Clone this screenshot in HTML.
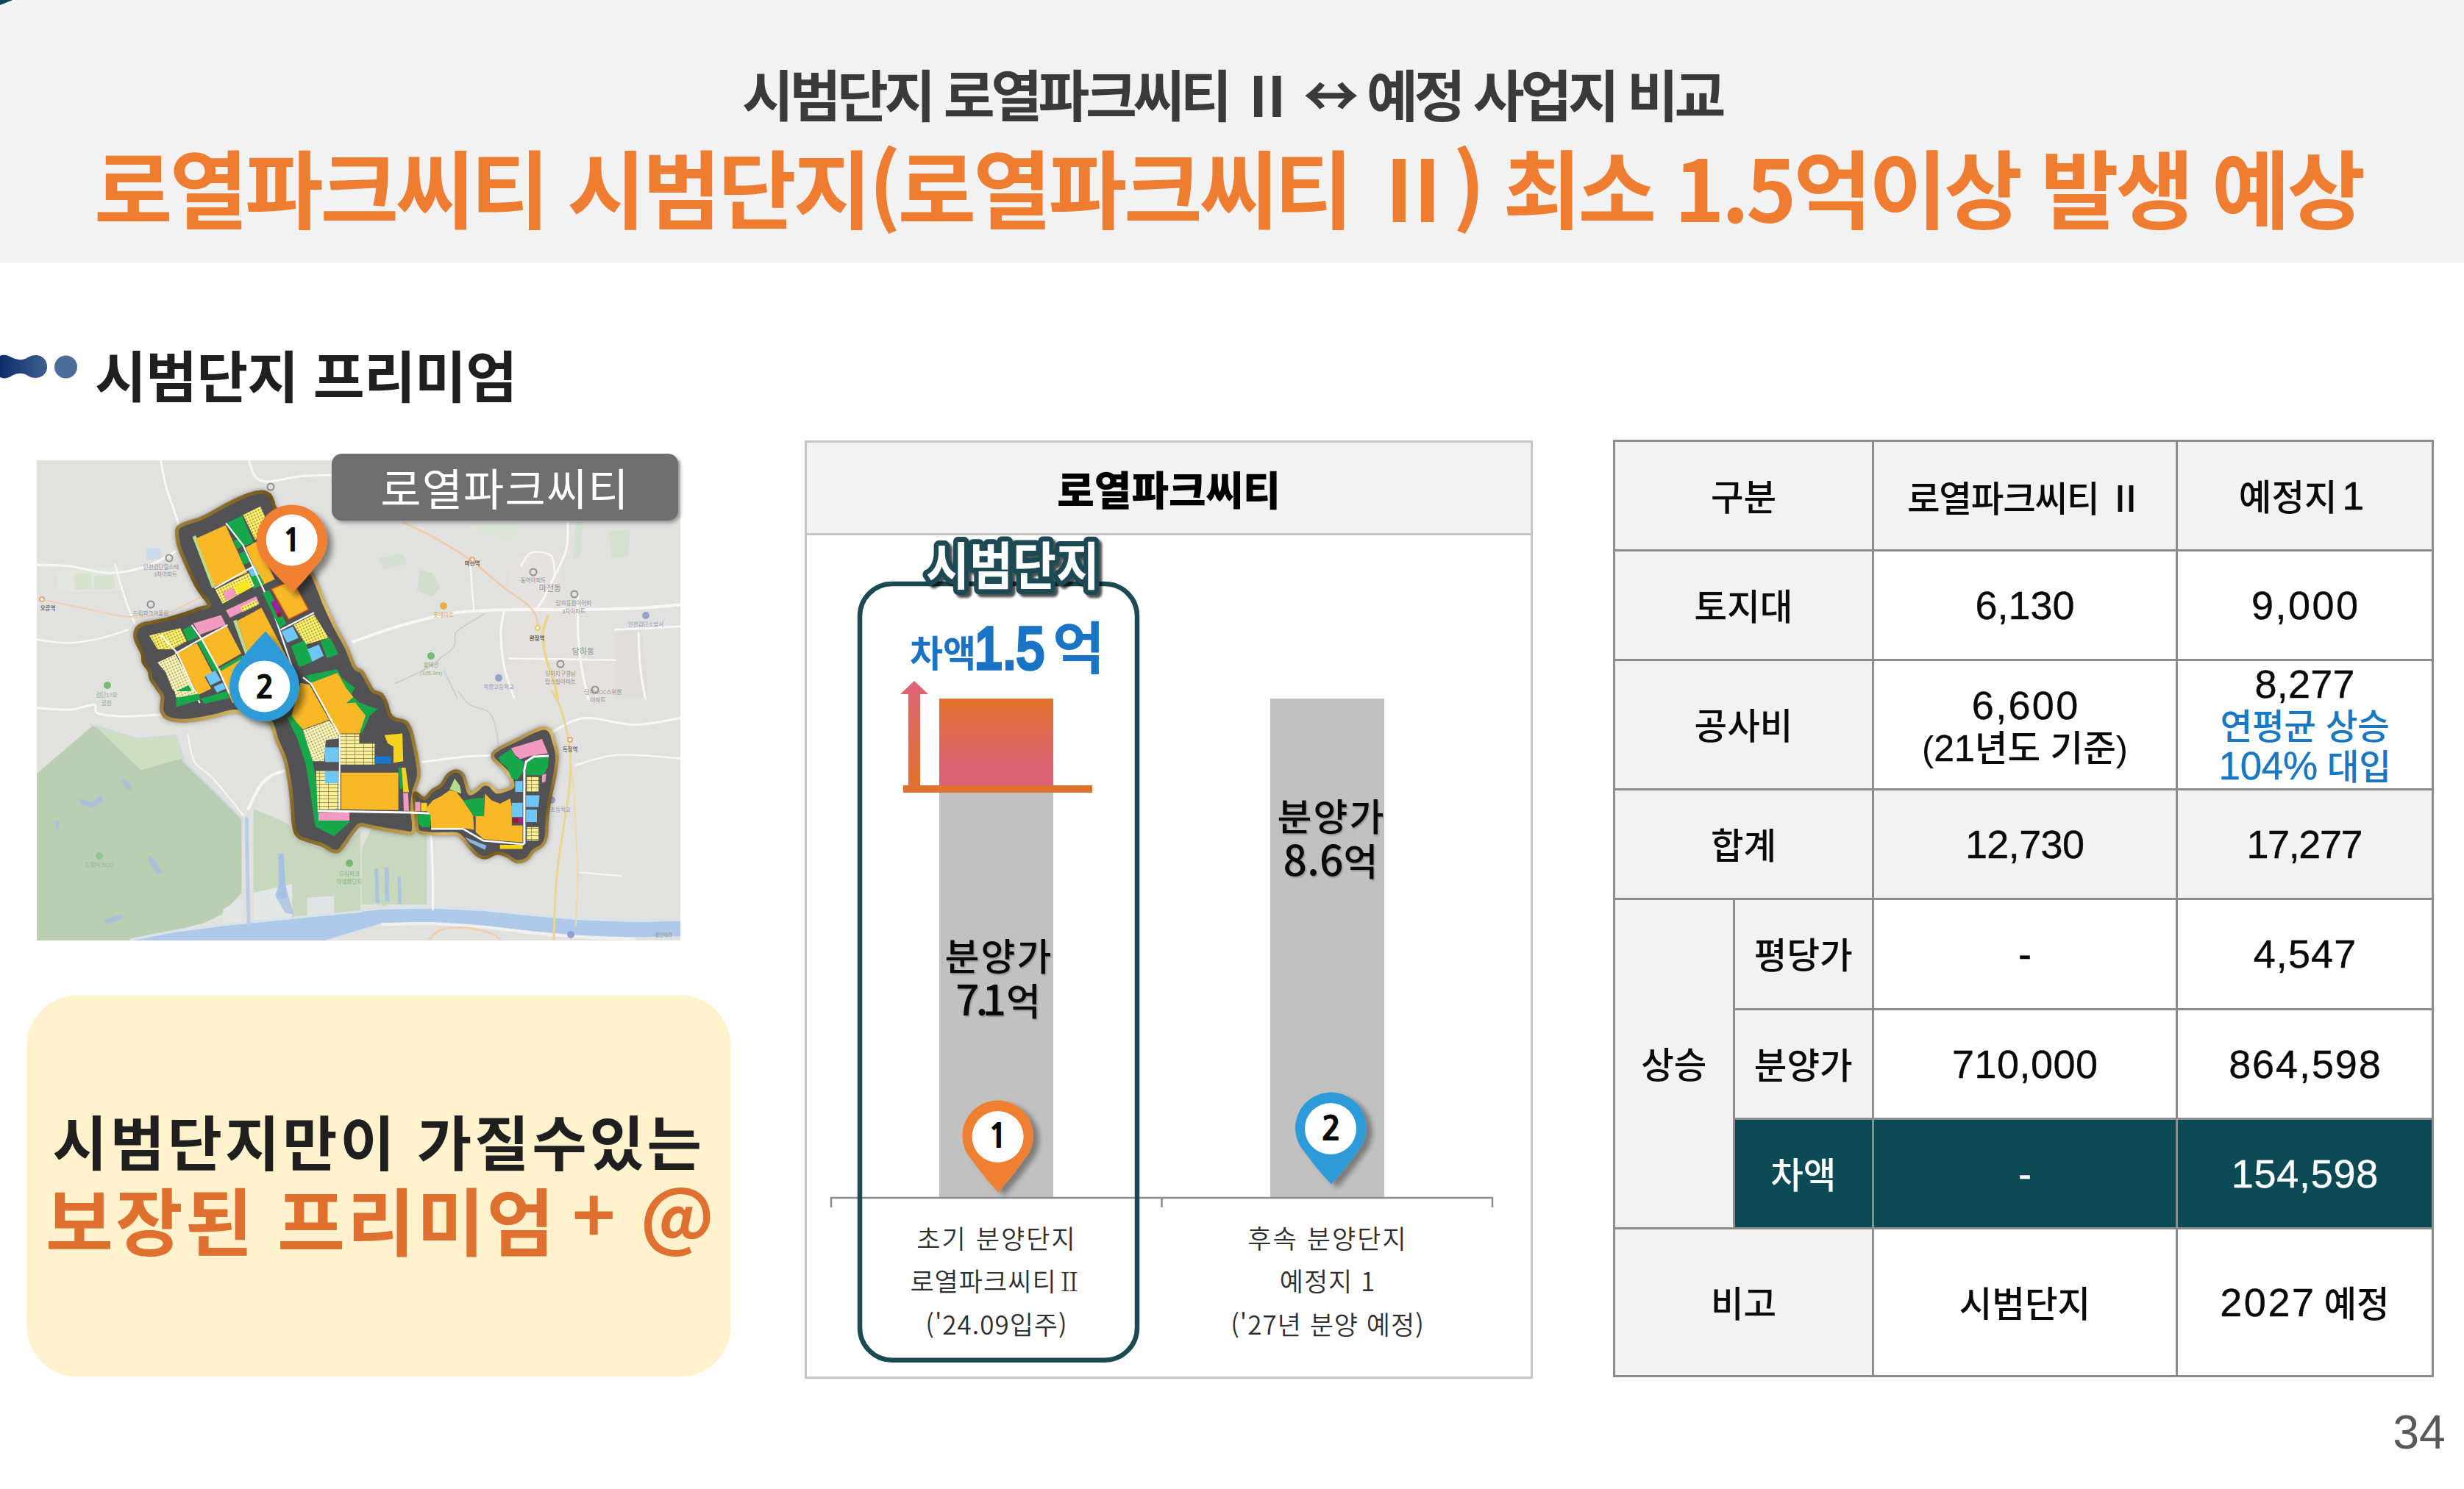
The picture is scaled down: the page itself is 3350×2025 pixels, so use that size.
<!DOCTYPE html>
<html lang="ko">
<head>
<meta charset="utf-8">
<title>시범단지 프리미엄</title>
<style>
*{margin:0;padding:0;box-sizing:border-box}
html,body{width:3350px;height:2025px;overflow:hidden;background:#fff}
body{position:relative;font-family:"Liberation Sans","Noto Sans CJK KR","NanumGothic",sans-serif;color:#111}
.abs{position:absolute;white-space:nowrap}
.k{font-family:"Noto Sans CJK KR","NanumGothic",sans-serif}
/* header */
#hdr{left:0;top:0;width:3350px;height:357px;background:#f2f2f2}
#t1{left:0;width:3350px;top:68px;text-align:center;font-size:76px;line-height:116px;font-weight:700;color:#3a3a3a;letter-spacing:-5.450px}
#t2{left:-5px;width:3350px;top:165.500px;text-align:center;font-size:116px;line-height:170px;font-weight:700;color:#ee7d31;letter-spacing:-4.250px}
/* section heading */
#h2{left:129px;top:459px;font-size:76px;line-height:112px;font-weight:700;color:#1f1f1f;letter-spacing:-0.800px}
#mlabel{left:451px;top:617px;width:471px;height:91px;border-radius:14px;background:#6f6f6f;color:#fff;font-size:60px;line-height:91px;text-align:center;font-weight:400;letter-spacing:1.200px;box-shadow:3px 3px 5px rgba(0,0,0,.35);padding-top:4.500px}
/* yellow box */
#ybox{left:37px;top:1353.500px;width:956px;height:518px;border-radius:68px;background:#fff2cd;box-shadow:0 0 3px #fff2cd}
#y1{left:37px;width:955px;top:1497px;text-align:center;font-size:81px;line-height:120px;font-weight:700;color:#1f1f1f;letter-spacing:3.700px}
#y2{left:45px;width:955px;top:1584px;text-align:center;font-size:100px;line-height:146px;font-weight:700;color:#e07030;letter-spacing:2.800px}
/* chart */
#chart{left:1094px;top:599px;width:990px;height:1276px;border:3px solid #c6c6c6;background:#fff}
#chead{left:1094px;top:599px;width:990px;height:129px;border:3px solid #c6c6c6;background:#f2f2f2}
#ctitle{left:1094px;width:990px;top:627px;text-align:center;font-size:55px;line-height:82px;font-weight:900;color:#000;letter-spacing:0}

#sbdj{left:1180px;width:400px;top:722px;text-align:center;font-size:68px;line-height:98px;font-weight:700;color:#fff;letter-spacing:-6px;-webkit-text-stroke:9px #1b4a52;paint-order:stroke fill;text-shadow:4px 4px 4px rgba(0,0,0,.45)}
#diff{left:1236px;top:822px;color:#1a73c4;font-weight:700;line-height:120px;letter-spacing:-4px}
#diff .a{font-size:50px}
#diff .b{font-size:84px;letter-spacing:-6px}
#diff .c{font-size:78px}
.bl{font-family:"Noto Sans CJK KR","NanumGothic",sans-serif;text-align:center;font-size:51px;line-height:61px;font-weight:500;color:#0a0a0a;width:240px;text-shadow:1.500px 1.500px 2px rgba(0,0,0,.22);letter-spacing:2px}
.bl .dg{font-size:57px;line-height:40px;letter-spacing:0;font-variant-numeric:proportional-nums}
#bl1{left:1238px;top:1268px}
#bl2{left:1690px;top:1078px}
.xl{font-family:"Noto Sans CJK KR","NanumGothic",sans-serif;text-align:center;font-size:35px;line-height:58.500px;font-weight:350;color:#2e2e2e;width:450px;letter-spacing:1px}
.xl .w{letter-spacing:2.100px}
#xl1{left:1130px;top:1653.500px}
#xl2{left:1580px;top:1653.500px}
/* table */
#tbl{left:2193px;top:598px;border-collapse:collapse;table-layout:fixed}
#tbl td{border:3px solid #8c8c8c;text-align:center;vertical-align:middle;font-size:48.500px;line-height:56px;color:#0a0a0a;background:#fff;font-weight:500;padding:5.500px 0 0 0}
#tbl td.g{background:#f2f2f2}
#tbl td.d{background:#0c4a56;color:#fff}
#tbl .n{font-size:54px;line-height:1px;position:relative;top:-1px;-webkit-text-stroke:0.400px currentColor}
#tbl td.m3{font-size:47.500px;line-height:55px;letter-spacing:-0.300px}
#tbl td.m2{padding-top:9px}
#tbl td.m3 .n{font-size:54px}
.blue{color:#1a78c2}
#pg{left:3205px;width:120px;top:1908px;text-align:right;font-size:64.500px;line-height:80px;color:#595959}
</style>
</head>
<body>
<div id="hdr" class="abs"></div>
<svg class="abs" style="left:0;top:0" width="30" height="12" viewBox="0 0 30 12"><path d="M0 0H18L0 7Z" fill="#0f4854"/><path d="M19.500 0L0 8" stroke="#f6ffff" stroke-width="1.500" fill="none"/></svg>
<div id="t1" class="abs k">시범단지 로열파크씨티 Ⅱ ↔ 예정 사업지 비교</div>
<div id="t2" class="abs k">로열파크씨티 시범단지(로열파크씨티 Ⅱ) 최소 1.5억이상 발생 예상</div>

<svg class="abs" style="left:0;top:478px" width="112" height="42" viewBox="0 0 112 42">
<defs><linearGradient id="bg1" x1="0" x2="1" y1="0" y2="0"><stop offset="0" stop-color="#0c2d69"/><stop offset="1" stop-color="#3d608f"/></linearGradient></defs>
<path d="M0 6C6 3 12 6 18 9C25 12 32 12 38 8C46 3 56 4 61 11C66 18 65 28 58 33C52 37 44 37 38 33C32 29 25 29 18 32C12 36 6 38 0 35Z" fill="url(#bg1)"/>
<circle cx="89.5" cy="21" r="15.5" fill="#4a6e99"/>
</svg>
<div id="h2" class="abs">시범단지 프리미엄</div>

<!-- MAP -->
<svg class="abs" id="map" style="left:50px;top:626px" width="875" height="653" viewBox="0 0 875 653">
<defs>
<linearGradient id="gold" x1="0" y1="0" x2="1" y2="1"><stop offset="0" stop-color="#c9a650"/><stop offset="0.25" stop-color="#6e531b"/><stop offset="0.5" stop-color="#dcbb66"/><stop offset="0.75" stop-color="#7a5d1f"/><stop offset="1" stop-color="#d2b05a"/></linearGradient>
<filter id="msh" x="-10%" y="-10%" width="120%" height="120%"><feGaussianBlur stdDeviation="4"/></filter>
<filter id="mpin" x="-50%" y="-50%" width="200%" height="200%"><feGaussianBlur in="SourceAlpha" stdDeviation="4"/><feOffset dx="7" dy="7"/><feComponentTransfer><feFuncA type="linear" slope="0.45"/></feComponentTransfer><feMerge><feMergeNode/><feMergeNode in="SourceGraphic"/></feMerge></filter>
<pattern id="pdot" width="4" height="4" patternUnits="userSpaceOnUse" patternTransform="rotate(-25)"><rect width="4" height="4" fill="#f6e84e"/><rect x="0" y="0" width="1.300" height="1.300" fill="#5a5a2a"/><rect x="2" y="2" width="1.600" height="1.600" fill="#fffbe0"/></pattern>
<pattern id="pdot2" width="4" height="4" patternUnits="userSpaceOnUse" patternTransform="rotate(-25)"><rect width="4" height="4" fill="#f3eda6"/><rect x="0" y="0" width="1.300" height="1.300" fill="#6a6a3a"/><rect x="2" y="2" width="1.500" height="1.500" fill="#fff"/></pattern>
<pattern id="pgrid" width="12" height="5" patternUnits="userSpaceOnUse"><rect width="12" height="5" fill="#f6ef9e"/><rect x="0" y="0" width="12" height="0.800" fill="#8a7a30"/><rect x="0" y="0" width="0.700" height="5" fill="#8a7a30"/></pattern>
</defs>
<rect x="0" y="0" width="875" height="653" fill="#e0e1df"/>
<path d="M635.5 212.3L738.2 210.0L740.5 269.4L786.2 271.7L786.2 324.0L642.3 324.0Z" fill="#e3dfdb" />
<path d="M786.2 230.6L822.7 230.6L831.8 324.0L786.2 324.0Z" fill="#dedcda" />
<path d="M649.2 130.1L713.1 125.6L717.7 203.2L635.5 207.7Z" fill="#e4e1df" />
<path d="M26.6 150.7L110.8 144.1L115.3 177.3L28.8 179.6Z" fill="#e2e6df" />
<path d="M51.0 155.2L73.2 153.0L75.4 175.1L52.1 176.2Z" fill="#d3e2cc" />
<path d="M77.6 157.4L104.2 155.2L106.4 175.1L78.7 176.2Z" fill="#d3e2cc" />
<path d="M148.5 119.7L168.5 119.7L168.5 135.2L148.5 135.2Z" fill="#c9d9ea" />
<path d="M521.3 148.4L537.3 152.9L548.7 173.5L537.3 184.9L516.8 178.1Z" fill="#cfdcc8" />
<path d="M464.2 132.4L498.5 127.8L503.1 141.5L471.1 148.4Z" fill="#d2dfcc" />
<path d="M589.8 84.5L658.3 86.7L646.9 107.3L603.5 102.7Z" fill="#d9e3d3" />
<path d="M777.0 98.2L806.7 93.6L804.4 130.1L781.6 132.4Z" fill="#d3e0cd" />
<path d="M733.7 84.5L742.8 84.5L738.2 130.1L729.1 134.7Z" fill="#cfe0d0" />
<path d="M0.0 425.9L77.6 359.7L137.0 377.9L189.5 373.4L198.6 409.9L278.5 487.5L278.5 588.0L251.1 617.7L228.3 629.1L127.9 654.0L0.0 654.0Z" fill="#b6ccae" />
<path d="M77.6 359.7L137.0 377.9L189.5 373.4L198.6 405.3L141.6 421.3Z" fill="#cbdcbd" />
<path d="M294.5 473.8L342.5 494.4L351.6 514.9L388.1 528.6L411.0 530.9L440.0 503.5L440.0 617.7L294.5 629.1Z" fill="#c4d6bb" />
<path d="M294.5 588.0L347.0 576.6L347.0 626.8L294.5 629.1Z" fill="#e4e6e6" />
<path d="M367.6 594.8L404.1 592.5L404.1 619.9L367.6 622.2Z" fill="#e0e3e3" />
<path d="M253.4 610.8L278.5 594.8L278.5 629.1L253.4 633.6Z" fill="#e4e6e6" />
<path d="M455.0 500.1L530.4 509.0L530.4 604.1L441.7 604.1L441.7 528.9Z" fill="#c4d6bb" />
<path d="M470.0 501.2L515.7 510.3L529.4 533.2L527.1 588.0L470.0 606.2Z" fill="#c4d6bb" />
<path d="M57.1 460.1L75.3 464.7L86.8 455.6L91.3 462.4L75.3 473.8L59.4 467.0Z" fill="#9dbbe4" opacity="0.75"/>
<path d="M114.2 432.7L123.3 435.0L130.1 448.7L121.0 446.4Z" fill="#9dbbe4" opacity="0.75"/>
<path d="M150.7 537.7L159.8 542.3L171.2 560.6L164.4 562.9L153.0 546.9Z" fill="#9dbbe4" opacity="0.75"/>
<path d="M91.3 624.5L114.2 617.7L118.7 622.2L95.9 631.4Z" fill="#9dbbe4" opacity="0.75"/>
<path d="M328.8 535.5L335.6 534.3L337.9 576.6L349.3 617.7L337.9 615.4L324.2 592.5L328.8 576.6Z" fill="#9dbbe4" opacity="0.75"/>
<path d="M25.1 492.1L29.7 489.8L30.8 501.2L26.3 503.5Z" fill="#9dbbe4" opacity="0.75"/>
<path d="M328.6 535.6L335.3 535.6L337.5 568.8L339.7 595.4L326.4 595.4L330.8 568.8Z" fill="#9dbbe4" opacity="0.75"/>
<path d="M459.4 555.5L463.8 555.5L466.1 602.1L460.5 602.1Z" fill="#9dbbe4" opacity="0.75"/>
<path d="M472.7 553.3L478.3 553.3L479.4 599.9L473.8 599.9Z" fill="#9dbbe4" opacity="0.75"/>
<path d="M490.5 566.6L494.9 566.6L496.0 604.1L491.6 604.1Z" fill="#9dbbe4" opacity="0.75"/>
<path d="M127.9 654.0L182.6 642.8L251.1 633.6L342.5 624.5L470.0 610.8L538.5 609.7L607.0 613.1L675.5 619.9L744.0 625.6L812.5 627.9L875.3 626.8L875.3 647.3L812.5 648.5L744.0 646.2L675.5 640.5L607.0 632.5L538.5 627.9L470.0 629.1L388.1 654.0L342.5 656.5Z" fill="#a9c6e8"/>
<path d="M127.9 651.9C137.0 650.1 162.1 644.2 182.6 640.9C203.1 637.5 224.4 634.8 251.1 631.8C277.8 628.8 311.0 625.8 342.5 622.7C374.0 619.7 423.8 615.0 440.0 613.5" fill="none" stroke="#d5e2ea" stroke-width="3" stroke-linecap="round" />
<path d="M470.0 609.0C481.4 608.8 515.7 607.4 538.5 607.8C561.3 608.2 584.2 609.6 607.0 611.3C629.8 613.0 652.7 616.0 675.5 618.1C698.3 620.2 721.2 622.5 744.0 623.8C766.8 625.1 790.6 625.9 812.5 626.1C834.4 626.3 864.8 625.2 875.3 625.0" fill="none" stroke="#d5e2ea" stroke-width="3" stroke-linecap="round" />
<path d="M470.0 631.4C481.4 631.2 515.7 629.6 538.5 630.2C561.3 630.8 584.2 632.7 607.0 634.8C629.8 636.9 652.7 640.5 675.5 642.8C698.3 645.1 721.2 647.2 744.0 648.5C766.8 649.8 801.1 650.4 812.5 650.8" fill="none" stroke="#f0f0ee" stroke-width="4" stroke-linecap="round" />
<path d="M285.4 487.5L286.5 565.1L288.1 631.4" fill="none" stroke="#b4cbe4" stroke-width="5" stroke-linecap="round" />
<path d="M73.1 359.7L137.0 379.1L189.5 374.5L200.9 409.9L279.7 488.7" fill="none" stroke="#c9d8dc" stroke-width="2.5" stroke-linecap="round" />
<path d="M0.0 141.9C7.4 142.3 28.8 142.2 44.3 144.1C59.8 145.9 79.8 151.9 93.1 153.0C106.4 154.1 113.8 152.5 124.1 150.7C134.4 148.8 144.5 146.3 155.2 141.9C165.9 137.5 182.9 127.1 188.4 124.1" fill="none" stroke="#f7f7f6" stroke-width="3" stroke-linecap="round" />
<path d="M168.5 0.0C169.6 5.5 171.8 21.1 175.1 33.3C178.4 45.5 185.1 63.2 188.4 73.2C191.7 83.2 194.0 89.8 195.1 93.1" fill="none" stroke="#f7f7f6" stroke-width="3" stroke-linecap="round" />
<path d="M0.0 243.8C7.4 244.6 29.5 248.7 44.3 248.3C59.1 247.9 75.4 244.6 88.7 241.6C102.0 238.6 118.2 232.3 124.1 230.5" fill="none" stroke="#f7f7f6" stroke-width="2.5" stroke-linecap="round" />
<path d="M288.2 0.0C289.7 3.7 292.7 17.4 297.1 22.2C301.5 27.0 305.2 28.8 314.8 28.8C324.4 28.8 340.7 23.7 354.7 22.2C368.7 20.7 391.6 20.4 399.0 20.0" fill="none" stroke="#f7f7f6" stroke-width="3" stroke-linecap="round" />
<path d="M106.4 141.9C107.9 147.1 112.3 163.3 115.3 172.9C118.2 182.5 121.1 191.4 124.1 199.5C127.0 207.6 131.5 218.0 133.0 221.7" fill="none" stroke="#f7f7f6" stroke-width="2.5" stroke-linecap="round" />
<path d="M0.0 336.8C7.6 337.2 32.8 339.9 45.7 339.1C58.6 338.4 71.5 331.5 77.6 332.3C83.7 333.1 76.1 341.1 82.2 343.7C88.3 346.3 99.8 347.8 114.2 348.2C128.7 348.6 159.8 346.4 168.9 346.0" fill="none" stroke="#f7f7f6" stroke-width="3" stroke-linecap="round" />
<path d="M205.5 373.4C207.0 379.5 208.9 400.0 214.6 409.9C220.3 419.8 228.7 420.5 239.7 432.7C250.7 444.9 273.9 474.5 280.8 482.9" fill="none" stroke="#f7f7f6" stroke-width="2" stroke-linecap="round" />
<path d="M440.0 409.9C423.8 411.8 364.5 416.7 342.5 421.3C320.5 425.9 317.3 428.6 308.2 437.3C299.1 446.1 291.1 467.7 287.7 473.8" fill="none" stroke="#f7f7f6" stroke-width="4" stroke-linecap="round" />
<path d="M430.0 246.6C441.4 242.8 475.7 230.2 498.5 223.7C521.3 217.2 544.2 211.1 567.0 207.7C589.8 204.3 608.9 203.9 635.5 203.2C662.1 202.4 696.4 203.6 726.8 203.2C757.2 202.8 793.5 202.1 818.1 200.9C842.7 199.8 864.8 197.1 874.1 196.3" fill="none" stroke="#f7f7f6" stroke-width="4" stroke-linecap="round" />
<path d="M635.5 203.2C634.7 208.5 630.9 222.2 630.9 235.1C630.9 248.0 632.5 266.0 635.5 280.8C638.5 295.6 646.9 316.8 649.2 324.0" fill="none" stroke="#f7f7f6" stroke-width="3" stroke-linecap="round" />
<path d="M722.2 84.5C721.8 90.6 723.0 108.8 720.0 121.0C717.0 133.2 709.3 146.1 704.0 157.5C698.7 168.9 692.2 181.9 688.0 189.5C683.8 197.1 680.4 200.9 678.9 203.2" fill="none" stroke="#f7f7f6" stroke-width="3" stroke-linecap="round" />
<path d="M735.9 180.3C735.9 189.4 735.1 218.3 735.9 235.1C736.7 251.8 738.2 266.0 740.5 280.8C742.8 295.6 748.1 316.8 749.6 324.0" fill="none" stroke="#f7f7f6" stroke-width="3" stroke-linecap="round" />
<path d="M818.1 235.1C818.5 242.7 818.9 266.0 820.4 280.8C821.9 295.6 826.1 316.8 827.3 324.0" fill="none" stroke="#f7f7f6" stroke-width="3" stroke-linecap="round" />
<path d="M658.3 143.8C660.6 140.8 665.1 127.9 672.0 125.6C678.9 123.3 694.1 124.8 699.4 130.1C704.7 135.4 703.2 152.9 704.0 157.5" fill="none" stroke="#f7f7f6" stroke-width="2.5" stroke-linecap="round" />
<path d="M589.8 143.8C590.2 149.9 591.3 170.4 592.1 180.3C592.9 190.2 594.0 199.4 594.4 203.2" fill="none" stroke="#f7f7f6" stroke-width="2.5" stroke-linecap="round" />
<path d="M786.2 230.6C800.9 229.8 859.5 226.8 874.1 226.0" fill="none" stroke="#f7f7f6" stroke-width="3" stroke-linecap="round" />
<path d="M642.3 269.4C666.3 269.8 762.2 271.3 786.2 271.7" fill="none" stroke="#f7f7f6" stroke-width="2.5" stroke-linecap="round" />
<path d="M524.8 409.9C534.7 408.8 566.7 404.5 584.2 403.0C601.7 401.5 622.2 401.2 629.8 400.8" fill="none" stroke="#f7f7f6" stroke-width="3" stroke-linecap="round" />
<path d="M698.3 371.1C705.9 367.7 725.0 352.4 744.0 350.5C763.0 348.6 790.6 359.7 812.5 359.7C834.4 359.7 864.8 352.0 875.3 350.5" fill="none" stroke="#f7f7f6" stroke-width="3" stroke-linecap="round" />
<path d="M732.6 414.5C742.1 412.2 765.8 402.3 789.6 400.8C813.4 399.3 861.0 404.6 875.3 405.3" fill="none" stroke="#f7f7f6" stroke-width="2.5" stroke-linecap="round" />
<path d="M536.2 510.3C536.6 519.4 538.1 548.4 538.5 565.1C538.9 581.9 538.5 603.2 538.5 610.8" fill="none" stroke="#f7f7f6" stroke-width="3" stroke-linecap="round" />
<path d="M739.4 560.6C748.5 561.4 785.1 564.4 794.2 565.1" fill="none" stroke="#f7f7f6" stroke-width="2" stroke-linecap="round" />
<path d="M608.1 208.9C603.5 211.8 587.2 221.6 580.7 226.0C574.2 230.4 571.6 230.5 569.3 235.1C567.0 239.7 570.4 247.7 567.0 253.4C563.6 259.1 553.7 265.2 548.7 269.4C543.8 273.6 542.6 275.1 537.3 278.5C532.0 281.9 525.2 285.7 516.8 289.9C508.4 294.1 492.1 301.3 487.1 303.6" fill="none" stroke="#c4c8c6" stroke-width="1.6" stroke-linecap="round" />
<path d="M553.3 285.4C554.8 288.4 559.3 297.2 562.4 303.6C565.5 310.0 570.1 320.6 571.6 324.0" fill="none" stroke="#c4c8c6" stroke-width="1.4" stroke-linecap="round" />
<path d="M572.7 314.0C575.4 317.1 581.5 327.4 588.7 332.3C595.9 337.2 610.0 337.2 616.1 343.7C622.2 350.2 623.4 363.5 625.3 371.1C627.2 378.7 627.1 386.3 627.5 389.3" fill="none" stroke="#c4c8c6" stroke-width="1.4" stroke-linecap="round" />
<path d="M498.5 84.5C506.1 88.3 529.0 98.8 544.2 107.3C559.4 115.8 574.6 124.8 589.8 135.8C605.0 146.8 622.6 163.4 635.5 173.5C648.4 183.6 660.2 189.8 667.4 196.3C674.6 202.8 676.6 207.0 678.9 212.3C681.2 217.6 680.7 225.6 681.1 228.3" fill="none" stroke="#efc79a" stroke-width="2.2" stroke-linecap="round" />
<path d="M6.7 189.5C16.7 191.5 46.9 197.8 66.5 201.7C86.1 205.6 105.6 211.9 124.1 212.8C142.6 213.7 161.0 211.7 177.3 207.3C193.6 202.9 214.3 189.7 221.7 186.2" fill="none" stroke="#efcdb4" stroke-width="2.2" stroke-linecap="round" />
<path d="M694.8 212.3C693.7 216.1 688.4 225.6 688.0 235.1C687.6 244.6 689.9 258.0 692.6 269.4C695.3 280.8 701.4 294.5 704.0 303.6C706.6 312.7 707.8 320.6 708.5 324.0" fill="none" stroke="#ead27e" stroke-width="3.5" stroke-linecap="round" />
<path d="M700.6 314.0C702.5 317.8 708.6 327.3 712.0 336.8C715.4 346.3 718.8 359.7 721.1 371.1C723.4 382.5 725.3 392.0 725.7 405.3C726.1 418.6 724.9 435.8 723.4 451.0C721.9 466.2 718.9 481.4 716.6 496.6C714.3 511.8 711.6 527.1 709.7 542.3C707.8 557.5 706.3 569.8 705.2 588.0C704.1 606.2 703.3 640.8 702.9 651.4" fill="none" stroke="#e9d289" stroke-width="3" stroke-linecap="round" />
<path d="M725.7 405.3C726.5 412.9 729.1 435.8 730.3 451.0C731.4 466.2 731.9 481.4 732.6 496.6C733.4 511.8 734.4 527.1 734.8 542.3C735.2 557.5 735.2 572.8 734.8 588.0C734.4 603.2 733.0 626.0 732.6 633.6" fill="none" stroke="#ecd9a0" stroke-width="2.2" stroke-linecap="round" />
<path d="M533.9 651.4C536.6 649.2 541.5 640.8 549.9 638.2C558.3 635.6 573.2 635.1 584.2 635.9C595.2 636.7 608.5 640.2 616.1 642.8C623.7 645.4 627.5 650.0 629.8 651.4" fill="none" stroke="#efcdb0" stroke-width="3" stroke-linecap="round" />
<g font-family="Liberation Sans, Noto Sans CJK KR, sans-serif" font-size="7.500" fill="#8a8a8a" text-anchor="middle" font-weight="700">
<text x="592" y="143" fill="#555">마전역</text>
<text x="680" y="245" fill="#555">완정역</text>
<text x="15" y="204" fill="#666">오류역</text>
<text x="725" y="396" fill="#666">독정역</text>
<text x="698" y="178" font-size="11" fill="#8b8b8b" font-weight="400">마전동</text>
<text x="743" y="264" font-size="11" fill="#8b8b8b" font-weight="400">당하동</text>
<text x="169" y="148" font-weight="400">인천검단힐스테</text><text x="175" y="158" font-weight="400">3차아파트</text>
<text x="155" y="211" font-weight="400">드림파크어울림</text>
<text x="730" y="197" font-weight="400">당하동원아이파</text><text x="730" y="208" font-weight="400">3차아파트</text>
<text x="712" y="293" font-weight="400">당하지구영남</text><text x="712" y="304" font-weight="400">탑스빌아파트</text>
<text x="770" y="318" font-weight="400">당하KCC스위첸</text><text x="763" y="329" font-weight="400">아파트</text>
<text x="675" y="166" font-weight="400">동아아파트</text>
<text x="553" y="213" fill="#d9a040" font-weight="400">롯데마트</text>
<text x="828" y="226" fill="#8d95b8" font-weight="400">인천검단소방서</text>
<text x="628" y="311" fill="#8d95b8" font-weight="400">목향고등학교</text>
<text x="705" y="478" fill="#8d95b8" font-weight="400">목향초등학교</text>
<text x="536" y="281" fill="#7fae79" font-weight="400">할메산</text><text x="536" y="292" fill="#7fae79" font-weight="400">(105.9m)</text>
<text x="95" y="322" fill="#7fae79" font-weight="400">검단17호</text><text x="95" y="333" fill="#7fae79" font-weight="400">공원</text>
<text x="85" y="553" fill="#8fae89" font-weight="400">드림파크CC</text>
<text x="425" y="565" fill="#7fae79" font-weight="400">드림파크</text><text x="425" y="576" fill="#7fae79" font-weight="400">야생화단지</text>
<text x="410" y="22" font-weight="400">인천</text><text x="410" y="32" font-weight="400">유방아</text>
<text x="852" y="648" font-size="6.500" font-weight="400">경인아라</text>
</g>
<g fill="none" stroke-width="2">
<circle cx="592" cy="135" r="3" stroke="#e9a06a" fill="#fff"/>
<circle cx="681" cy="228" r="3" stroke="#e5c85a" fill="#fff"/>
<circle cx="7" cy="189" r="3" stroke="#e9a06a" fill="#fff"/>
<circle cx="725" cy="380" r="3" stroke="#e9a06a" fill="#fff"/>
<circle cx="180" cy="133" r="4.500" stroke="#8a8a8a"/>
<circle cx="155" cy="196" r="4.500" stroke="#8a8a8a"/>
<circle cx="675" cy="152" r="4.500" stroke="#8a8a8a"/>
<circle cx="731" cy="182" r="4.500" stroke="#8a8a8a"/>
<circle cx="712" cy="277" r="4.500" stroke="#8a8a8a"/>
<circle cx="759" cy="312" r="4.500" stroke="#8a8a8a"/>
<circle cx="318" cy="36" r="4.500" stroke="#8a8a8a"/>
<circle cx="553" cy="198" r="5" fill="#e8a835" stroke="none"/>
<circle cx="828" cy="211" r="5" fill="#8d9ccc" stroke="none"/>
<circle cx="628" cy="296" r="5" fill="#8d9ccc" stroke="none"/>
<circle cx="700" cy="462" r="5" fill="#8d9ccc" stroke="none"/>
<circle cx="726" cy="645" r="5" fill="#8d9ccc" stroke="none"/>
<circle cx="536" cy="266" r="5" fill="#6fb56a" stroke="none"/>
<circle cx="96" cy="306" r="5" fill="#6fb56a" stroke="none"/>
<circle cx="85" cy="538" r="5" fill="#8fbf8a" stroke="none"/>
<circle cx="425" cy="548" r="5" fill="#6fb56a" stroke="none"/>
</g>

<rect x="0" y="0" width="875" height="653" fill="#fff" opacity="0.06"/>
<g filter="url(#msh)"><path d="M190.6 97.5C190.6 93.4 190.7 92.9 192.9 90.9C195.1 88.9 199.1 87.2 203.9 85.3C208.7 83.4 215.8 82.2 221.7 79.8C227.6 77.4 233.5 74.0 239.4 70.9C245.3 67.8 251.2 64.1 257.1 61.0C263.0 57.9 269.0 54.7 274.9 52.1C280.8 49.5 287.1 46.9 292.6 45.4C298.1 43.9 304.0 42.8 308.1 43.2C312.2 43.6 314.8 45.3 317.0 47.7C319.2 50.1 320.1 54.5 321.4 57.6C322.7 60.7 315.9 50.2 324.8 66.5C333.7 82.8 363.7 134.1 374.6 155.2C385.5 176.3 385.0 181.1 390.2 192.9C395.4 204.7 400.5 215.8 405.7 226.1C410.9 236.4 416.8 245.7 421.2 254.9C425.6 264.1 428.9 276.1 432.3 281.5C435.7 286.9 438.7 283.8 441.7 287.3C444.7 290.9 447.9 298.4 450.5 302.8C453.1 307.2 454.2 311.3 457.2 313.9C460.2 316.5 465.4 315.7 468.3 318.3C471.2 320.9 473.0 325.0 474.9 329.4C476.8 333.8 477.5 341.2 479.4 344.9C481.2 348.6 482.3 349.8 486.0 351.6C489.7 353.5 497.8 353.4 501.5 356.0C505.2 358.6 506.3 362.3 508.2 367.1C510.1 371.9 511.1 378.2 512.6 384.8C514.1 391.4 516.0 399.6 517.1 407.0C518.2 414.4 520.0 421.8 519.3 429.2C518.5 436.6 514.1 443.9 512.6 451.3C511.1 458.7 510.4 466.1 510.4 473.5C510.4 480.9 512.6 490.1 512.6 495.7C512.6 501.2 513.0 505.1 510.4 506.8C507.8 508.5 503.0 506.4 497.1 505.7C491.2 504.9 482.3 503.6 474.9 502.3C467.5 501.0 458.7 499.0 452.8 497.9C446.9 496.8 443.2 494.6 439.5 495.7C435.8 496.8 433.9 500.4 430.6 504.5C427.3 508.6 422.8 515.7 419.5 520.1C416.2 524.5 413.6 529.3 410.6 531.1C407.7 532.9 405.5 532.4 401.8 531.1C398.1 529.8 393.7 525.6 388.5 523.4C383.3 521.2 376.2 519.8 370.7 517.8C365.1 515.8 358.7 514.5 355.2 511.2C351.7 507.9 351.0 504.2 349.7 497.9C348.4 491.6 348.4 483.1 347.5 473.5C346.6 463.9 345.8 451.4 344.1 440.3C342.4 429.2 340.4 417.0 337.5 407.0C334.6 397.0 329.7 388.9 326.4 380.4C323.1 371.9 322.4 361.4 317.5 356.0C312.6 350.6 304.8 350.6 296.8 348.2C288.8 345.8 278.9 341.4 269.4 341.4C259.9 341.4 250.3 346.1 239.7 348.2C229.0 350.3 215.4 353.4 205.5 354.0C195.6 354.6 186.3 353.8 180.4 351.7C174.5 349.6 171.7 346.4 170.1 341.4C168.5 336.3 171.7 326.6 170.7 321.4C169.7 316.2 166.6 314.4 164.0 310.4C161.4 306.3 157.0 301.2 155.2 297.1C153.4 293.0 154.7 289.7 153.0 286.0C151.3 282.3 146.7 278.6 145.2 274.9C143.7 271.2 145.2 267.5 144.1 263.8C143.0 260.1 140.3 256.4 138.6 252.7C136.9 249.0 134.7 245.3 134.1 241.6C133.5 237.9 133.9 233.4 135.2 230.5C136.5 227.6 138.6 225.6 141.9 223.9C145.2 222.2 149.3 221.9 155.2 220.6C161.1 219.3 169.9 217.9 177.3 216.1C184.7 214.2 192.1 211.9 199.5 209.5C206.9 207.1 216.0 203.5 221.7 201.7C227.4 199.8 232.1 199.9 233.9 198.4C235.8 196.9 234.1 195.3 232.8 192.9C231.5 190.5 228.7 187.7 226.1 184.0C223.5 180.3 220.1 175.9 217.2 170.7C214.2 165.5 211.3 159.3 208.4 153.0C205.5 146.7 202.1 139.3 199.5 133.0C196.9 126.7 194.4 121.2 192.9 115.3C191.4 109.4 190.6 101.6 190.6 97.5Z" fill="#3a3a3a"/><path d="M513.4 453.3C515.3 449.1 522.9 460.9 527.1 460.1C531.3 459.3 534.7 451.7 538.5 448.7C542.3 445.7 546.5 445.3 549.9 441.9C553.3 438.5 555.6 431.4 559.0 428.2C562.4 424.9 567.1 422.4 570.5 422.4C573.9 422.4 577.3 424.9 579.6 428.2C581.9 431.4 582.7 437.7 584.2 441.9C585.7 446.1 586.4 452.2 588.7 453.3C591.0 454.4 594.9 450.8 597.9 448.7C600.9 446.6 604.0 441.8 607.0 440.7C610.0 439.6 613.1 440.2 616.1 441.9C619.1 443.6 621.9 449.9 625.3 451.0C628.7 452.1 633.1 449.8 636.7 448.7C640.3 447.6 645.4 446.4 646.9 444.1C648.4 441.8 647.1 438.4 645.8 435.0C644.5 431.6 641.6 427.0 638.9 423.6C636.2 420.2 632.8 417.6 629.8 414.5C626.8 411.4 622.2 408.0 620.7 405.3C619.2 402.6 619.2 400.8 620.7 398.5C622.2 396.2 624.5 394.7 629.8 391.6C635.1 388.6 645.0 384.0 652.6 380.2C660.2 376.4 669.4 371.5 675.5 368.8C681.6 366.1 685.4 364.2 689.2 364.2C693.0 364.2 696.0 365.8 698.3 368.8C700.6 371.9 701.4 377.2 702.9 382.5C704.4 387.8 707.0 393.9 707.4 400.8C707.8 407.7 706.3 416.0 705.2 423.6C704.1 431.2 702.1 438.8 700.6 446.4C699.1 454.0 697.1 461.7 696.0 469.3C694.9 476.9 694.3 484.9 693.7 492.1C693.1 499.3 693.7 507.3 692.6 512.6C691.5 517.9 689.8 521.0 686.9 524.0C684.0 527.0 678.9 527.9 675.5 530.9C672.1 533.9 670.1 539.8 666.3 542.3C662.5 544.8 657.2 546.5 652.6 545.7C648.0 544.9 643.5 539.6 638.9 537.7C634.3 535.8 629.8 533.9 625.3 534.3C620.8 534.7 615.8 539.4 611.6 540.0C607.4 540.6 603.9 540.0 600.1 537.7C596.3 535.4 592.1 530.1 588.7 526.3C585.3 522.5 582.6 517.9 579.6 514.9C576.6 511.9 575.5 509.2 570.5 508.1C565.5 507.0 557.1 508.3 549.9 508.1C542.7 507.9 532.4 507.7 527.1 506.9C521.8 506.1 519.8 507.1 517.9 503.5C516.0 499.9 516.5 493.6 515.7 485.2C515.0 476.8 511.5 457.5 513.4 453.3Z" fill="#3a3a3a"/></g>
<path d="M190.6 97.5C190.6 93.4 190.7 92.9 192.9 90.9C195.1 88.9 199.1 87.2 203.9 85.3C208.7 83.4 215.8 82.2 221.7 79.8C227.6 77.4 233.5 74.0 239.4 70.9C245.3 67.8 251.2 64.1 257.1 61.0C263.0 57.9 269.0 54.7 274.9 52.1C280.8 49.5 287.1 46.9 292.6 45.4C298.1 43.9 304.0 42.8 308.1 43.2C312.2 43.6 314.8 45.3 317.0 47.7C319.2 50.1 320.1 54.5 321.4 57.6C322.7 60.7 315.9 50.2 324.8 66.5C333.7 82.8 363.7 134.1 374.6 155.2C385.5 176.3 385.0 181.1 390.2 192.9C395.4 204.7 400.5 215.8 405.7 226.1C410.9 236.4 416.8 245.7 421.2 254.9C425.6 264.1 428.9 276.1 432.3 281.5C435.7 286.9 438.7 283.8 441.7 287.3C444.7 290.9 447.9 298.4 450.5 302.8C453.1 307.2 454.2 311.3 457.2 313.9C460.2 316.5 465.4 315.7 468.3 318.3C471.2 320.9 473.0 325.0 474.9 329.4C476.8 333.8 477.5 341.2 479.4 344.9C481.2 348.6 482.3 349.8 486.0 351.6C489.7 353.5 497.8 353.4 501.5 356.0C505.2 358.6 506.3 362.3 508.2 367.1C510.1 371.9 511.1 378.2 512.6 384.8C514.1 391.4 516.0 399.6 517.1 407.0C518.2 414.4 520.0 421.8 519.3 429.2C518.5 436.6 514.1 443.9 512.6 451.3C511.1 458.7 510.4 466.1 510.4 473.5C510.4 480.9 512.6 490.1 512.6 495.7C512.6 501.2 513.0 505.1 510.4 506.8C507.8 508.5 503.0 506.4 497.1 505.7C491.2 504.9 482.3 503.6 474.9 502.3C467.5 501.0 458.7 499.0 452.8 497.9C446.9 496.8 443.2 494.6 439.5 495.7C435.8 496.8 433.9 500.4 430.6 504.5C427.3 508.6 422.8 515.7 419.5 520.1C416.2 524.5 413.6 529.3 410.6 531.1C407.7 532.9 405.5 532.4 401.8 531.1C398.1 529.8 393.7 525.6 388.5 523.4C383.3 521.2 376.2 519.8 370.7 517.8C365.1 515.8 358.7 514.5 355.2 511.2C351.7 507.9 351.0 504.2 349.7 497.9C348.4 491.6 348.4 483.1 347.5 473.5C346.6 463.9 345.8 451.4 344.1 440.3C342.4 429.2 340.4 417.0 337.5 407.0C334.6 397.0 329.7 388.9 326.4 380.4C323.1 371.9 322.4 361.4 317.5 356.0C312.6 350.6 304.8 350.6 296.8 348.2C288.8 345.8 278.9 341.4 269.4 341.4C259.9 341.4 250.3 346.1 239.7 348.2C229.0 350.3 215.4 353.4 205.5 354.0C195.6 354.6 186.3 353.8 180.4 351.7C174.5 349.6 171.7 346.4 170.1 341.4C168.5 336.3 171.7 326.6 170.7 321.4C169.7 316.2 166.6 314.4 164.0 310.4C161.4 306.3 157.0 301.2 155.2 297.1C153.4 293.0 154.7 289.7 153.0 286.0C151.3 282.3 146.7 278.6 145.2 274.9C143.7 271.2 145.2 267.5 144.1 263.8C143.0 260.1 140.3 256.4 138.6 252.7C136.9 249.0 134.7 245.3 134.1 241.6C133.5 237.9 133.9 233.4 135.2 230.5C136.5 227.6 138.6 225.6 141.9 223.9C145.2 222.2 149.3 221.9 155.2 220.6C161.1 219.3 169.9 217.9 177.3 216.1C184.7 214.2 192.1 211.9 199.5 209.5C206.9 207.1 216.0 203.5 221.7 201.7C227.4 199.8 232.1 199.9 233.9 198.4C235.8 196.9 234.1 195.3 232.8 192.9C231.5 190.5 228.7 187.7 226.1 184.0C223.5 180.3 220.1 175.9 217.2 170.7C214.2 165.5 211.3 159.3 208.4 153.0C205.5 146.7 202.1 139.3 199.5 133.0C196.9 126.7 194.4 121.2 192.9 115.3C191.4 109.4 190.6 101.6 190.6 97.5Z" fill="#525254" stroke="url(#gold)" stroke-width="5" stroke-linejoin="round"/>
<path d="M513.4 453.3C515.3 449.1 522.9 460.9 527.1 460.1C531.3 459.3 534.7 451.7 538.5 448.7C542.3 445.7 546.5 445.3 549.9 441.9C553.3 438.5 555.6 431.4 559.0 428.2C562.4 424.9 567.1 422.4 570.5 422.4C573.9 422.4 577.3 424.9 579.6 428.2C581.9 431.4 582.7 437.7 584.2 441.9C585.7 446.1 586.4 452.2 588.7 453.3C591.0 454.4 594.9 450.8 597.9 448.7C600.9 446.6 604.0 441.8 607.0 440.7C610.0 439.6 613.1 440.2 616.1 441.9C619.1 443.6 621.9 449.9 625.3 451.0C628.7 452.1 633.1 449.8 636.7 448.7C640.3 447.6 645.4 446.4 646.9 444.1C648.4 441.8 647.1 438.4 645.8 435.0C644.5 431.6 641.6 427.0 638.9 423.6C636.2 420.2 632.8 417.6 629.8 414.5C626.8 411.4 622.2 408.0 620.7 405.3C619.2 402.6 619.2 400.8 620.7 398.5C622.2 396.2 624.5 394.7 629.8 391.6C635.1 388.6 645.0 384.0 652.6 380.2C660.2 376.4 669.4 371.5 675.5 368.8C681.6 366.1 685.4 364.2 689.2 364.2C693.0 364.2 696.0 365.8 698.3 368.8C700.6 371.9 701.4 377.2 702.9 382.5C704.4 387.8 707.0 393.9 707.4 400.8C707.8 407.7 706.3 416.0 705.2 423.6C704.1 431.2 702.1 438.8 700.6 446.4C699.1 454.0 697.1 461.7 696.0 469.3C694.9 476.9 694.3 484.9 693.7 492.1C693.1 499.3 693.7 507.3 692.6 512.6C691.5 517.9 689.8 521.0 686.9 524.0C684.0 527.0 678.9 527.9 675.5 530.9C672.1 533.9 670.1 539.8 666.3 542.3C662.5 544.8 657.2 546.5 652.6 545.7C648.0 544.9 643.5 539.6 638.9 537.7C634.3 535.8 629.8 533.9 625.3 534.3C620.8 534.7 615.8 539.4 611.6 540.0C607.4 540.6 603.9 540.0 600.1 537.7C596.3 535.4 592.1 530.1 588.7 526.3C585.3 522.5 582.6 517.9 579.6 514.9C576.6 511.9 575.5 509.2 570.5 508.1C565.5 507.0 557.1 508.3 549.9 508.1C542.7 507.9 532.4 507.7 527.1 506.9C521.8 506.1 519.8 507.1 517.9 503.5C516.0 499.9 516.5 493.6 515.7 485.2C515.0 476.8 511.5 457.5 513.4 453.3Z" fill="#525254" stroke="url(#gold)" stroke-width="4.500" stroke-linejoin="round"/>
<path d="M211.7 104.2L216.1 102.0L242.7 171.8L238.3 174.0Z" fill="#b7dc8f"/>
<path d="M216.1 106.4L256.7 88.2L286.0 153.0L241.6 171.8Z" fill="#f9b927"/>
<path d="M258.9 85.3L278.9 74.9L294.8 111.9L279.8 117.0Z" fill="#17a84b"/>
<path d="M280.4 74.3L304.1 62.7L314.8 86.5L297.1 108.6Z" fill="url(#pdot)"/>
<path d="M283.8 118.6L298.2 110.8L323.7 161.8L307.0 169.6Z" fill="#f9b927"/>
<path d="M267.1 109.7L273.8 106.4L278.9 117.0L272.2 120.8Z" fill="#17a84b"/>
<path d="M274.9 126.8L284.2 123.0L290.0 137.9L280.6 142.3Z" fill="#17a84b"/>
<path d="M287.1 148.1L297.1 143.6L301.9 155.2L292.2 159.6Z" fill="#6ec6f5"/>
<path d="M286.0 159.6L302.6 155.2L309.2 167.4L294.8 175.1Z" fill="#17a84b"/>
<path d="M242.7 176.2L288.2 153.0L295.9 170.7L252.7 195.1Z" fill="url(#pdot)"/>
<path d="M252.7 179.6L266.0 172.9L271.6 184.0L258.3 190.6Z" fill="#f29ac0"/>
<path d="M269.3 170.7L286.0 162.9L290.4 174.0L274.9 181.8Z" fill="#fbe51c"/>
<path d="M257.1 85.3L280.4 115.3L319.2 199.5L345.8 277.1L363.6 330.1" stroke="#fff" stroke-width="2.2" fill="none"/>
<path d="M241.6 174.0L294.8 144.1" stroke="#fff" stroke-width="2.2" fill="none"/>
<path d="M319.2 175.1L348.0 162.9L369.1 202.8L342.5 216.1Z" fill="#f9b927" stroke="#e9501e" stroke-width="1.5"/>
<path d="M307.0 180.7L315.9 176.2L339.2 221.7L330.3 228.3Z" fill="#17a84b"/>
<path d="M318.1 192.9L324.8 189.5L332.5 206.2L325.9 209.5Z" fill="#a0209a"/>
<path d="M325.9 208.4L331.4 206.2L333.6 211.7L328.1 213.9Z" fill="#9c1a30"/>
<path d="M257.1 203.9L298.2 185.1L302.6 195.1L262.7 213.9Z" fill="#f29ac0"/>
<path d="M277.1 199.5L298.2 189.5L301.5 196.2L280.4 206.2Z" fill="url(#pdot)"/>
<path d="M267.1 218.4L271.6 216.8L288.2 263.8L283.8 264.9Z" fill="#b7dc8f"/>
<path d="M272.2 218.4L305.5 200.6L345.8 279.3L288.2 263.8Z" fill="#f9b927"/>
<path d="M332.5 232.8L348.0 226.1L355.8 241.6L340.3 248.3Z" fill="#6ec6f5"/>
<path d="M349.1 223.9L376.9 209.5L396.8 241.6L365.8 250.5Z" fill="url(#pdot)"/>
<path d="M345.8 252.7L363.6 245.0L376.9 272.7L356.9 281.5Z" fill="#17a84b"/>
<path d="M368.0 257.1L383.5 250.5L390.2 266.0L374.6 273.8Z" fill="#6ec6f5"/>
<path d="M385.7 246.1L399.0 241.6L410.1 263.8L394.6 269.3Z" fill="#17a84b"/>
<path d="M331.4 230.5L376.9 207.3" stroke="#fff" stroke-width="2.2" fill="none"/>
<path d="M212.8 221.7L250.5 210.6L257.1 223.9L221.7 237.2Z" fill="#f29ac0"/>
<path d="M198.4 230.5L209.5 225.0L219.5 240.5L205.1 246.1Z" fill="#17a84b"/>
<path d="M153.0 238.3L195.1 228.3L203.9 246.1L184.0 257.1L164.0 257.1Z" fill="url(#pdot)"/>
<path d="M164.0 274.9L188.4 263.8L219.5 319.2L199.5 330.1L184.0 310.4L175.1 288.2Z" fill="url(#pdot2)"/>
<path d="M223.9 242.7L258.3 225.0L278.2 262.7L246.1 281.1Z" fill="#f9b927"/>
<path d="M218.4 247.2L223.9 243.8L247.2 286.0L240.5 288.2Z" fill="#17a84b"/>
<path d="M188.9 261.6L217.7 248.7L239.0 289.3L228.3 294.8L237.2 310.4L219.5 319.2Z" fill="#f9b927"/>
<path d="M229.4 292.6L242.7 286.0L250.5 299.3L236.1 305.9Z" fill="#6ec6f5"/>
<path d="M240.5 308.1L252.7 302.6L257.1 310.4L245.0 315.9Z" fill="#6ec6f5"/>
<path d="M246.1 283.8L279.8 266.0L288.2 281.5L279.3 330.1L266.0 330.1Z" fill="#f9b927"/>
<path d="M248.3 282.6L278.2 266.0L280.4 269.3L250.5 286.4Z" fill="#17a84b"/>
<path d="M188.4 314.8L206.2 305.9L210.6 312.6L192.9 321.4Z" fill="#17a84b"/>
<path d="M168.5 237.2L190.6 261.6L221.7 330.1" stroke="#fff" stroke-width="2.2" fill="none"/>
<path d="M188.4 262.7L223.9 242.7L259.4 223.9" stroke="#fff" stroke-width="2.2" fill="none"/>
<path d="M210.6 223.9L223.9 242.7L246.1 282.6L261.6 317.0" stroke="#fff" stroke-width="2.2" fill="none"/>
<path d="M189.5 323.1L219.2 316.3L222.6 325.4L189.5 335.7Z" fill="#17a84b"/>
<path d="M222.6 324.3L258.0 314.0L262.6 323.1L228.3 331.1Z" fill="#17a84b"/>
<path d="M187.2 314.0L219.2 314.0L219.2 317.4L189.5 323.1Z" fill="url(#pdot2)"/>
<path d="M344.1 347.2L353.0 347.2L364.1 373.8L375.2 409.2L381.4 444.7L382.9 479.1L426.2 491.2L404.0 511.2L378.5 497.9L371.9 451.3L365.2 411.4L354.1 378.2L340.8 350.5Z" fill="#17a84b"/>
<path d="M365.2 292.8L408.4 284.0L415.1 296.2L432.8 309.5L427.3 318.3L419.5 309.5L408.9 289.1L373.0 302.8Z" fill="#17a84b"/>
<path d="M346.4 347.2L358.6 302.8L370.7 305.0L397.3 352.7L361.9 366.0L353.0 356.0Z" fill="#f9b927"/>
<path d="M372.5 302.8L408.9 289.1L420.6 309.5L432.8 325.0L447.2 347.2L439.5 371.5L409.5 371.5L397.3 351.6Z" fill="#f9b927"/>
<path d="M420.6 330.5L430.6 321.7L438.4 329.4L450.5 333.9L463.8 338.3L452.8 347.2L446.1 362.7L441.7 371.5L439.5 369.3L447.2 347.2L432.8 329.4Z" fill="#17a84b"/>
<path d="M361.9 367.1L397.3 353.8L410.6 371.5L410.6 378.2L392.9 380.4L390.7 409.2L375.2 409.2Z" fill="url(#pdot2)"/>
<path d="M412.9 372.6L438.4 372.6L438.4 384.8L459.4 384.8L459.4 413.7L412.9 413.7Z" fill="url(#pgrid)"/>
<path d="M391.8 390.4L410.6 390.4L410.6 410.3L391.8 410.3Z" fill="#6ec6f5"/>
<path d="M459.4 402.6L481.6 402.6L481.6 412.6L459.4 412.6Z" fill="#1878d0"/>
<path d="M472.7 373.8L497.1 371.5L498.2 409.2L484.9 411.4L484.9 389.3L477.1 384.8Z" fill="#f5d21e"/>
<path d="M379.6 422.5L410.6 422.5L410.6 474.6L381.8 474.6Z" fill="url(#pgrid)"/>
<path d="M391.8 423.0L410.2 423.0L410.2 439.2L391.8 439.2Z" fill="#6ec6f5"/>
<path d="M414.0 424.7L491.6 424.7L491.6 475.7L414.0 474.6Z" fill="#f9b927"/>
<path d="M491.6 418.1L496.0 418.1L497.1 446.9L493.8 446.9Z" fill="#17a84b"/>
<path d="M496.0 418.1L501.5 418.1L506.0 451.3L498.2 451.3Z" fill="#f5d21e"/>
<path d="M498.2 452.5L504.9 452.5L506.0 476.8L498.9 476.8Z" fill="#f29ac0"/>
<path d="M382.9 479.1L425.1 479.1L425.1 490.1L382.9 490.1Z" fill="#f29ac0"/>
<path d="M381.8 476.8L508.2 479.1L534.8 480.2" stroke="#fff" stroke-width="3" fill="none"/>
<path d="M411.8 371.5L411.8 474.6" stroke="#fff" stroke-width="2" fill="none"/>
<path d="M361.9 295.1L373.0 303.9L410.6 371.5" stroke="#fff" stroke-width="2.2" fill="none"/>
<path d="M514.5 464.7L521.4 464.7L521.4 477.2L514.5 477.2Z" fill="#f29ac0"/>
<path d="M522.5 465.8L530.5 465.8L530.5 477.2L522.5 477.2Z" fill="#f5d21e"/>
<path d="M517.9 481.8L535.1 481.8L535.1 498.9L524.8 498.9L519.1 494.4Z" fill="#17a84b"/>
<path d="M561.3 447.6L568.2 432.7L575.0 441.9L577.3 453.3L570.5 451.0Z" fill="#b7dc8f"/>
<path d="M530.5 471.5L538.5 462.4L549.9 456.7L561.3 448.7L570.5 451.0L579.6 462.4L593.3 482.9L594.4 502.4L579.6 500.1L536.2 500.1L535.1 481.8L530.5 477.2Z" fill="#f9b927"/>
<path d="M579.6 462.4L594.4 460.1L608.1 459.0L608.1 484.1L594.4 484.1Z" fill="#17a84b"/>
<path d="M596.7 484.1L608.1 484.1L609.3 453.3L618.4 462.4L629.8 467.0L643.5 460.1L645.8 471.5L645.8 496.6L660.6 496.6L660.6 519.5L629.8 517.2L607.0 514.9L596.7 505.8Z" fill="#f9b927"/>
<path d="M645.8 465.8L660.6 465.8L660.6 485.2L645.8 485.2Z" fill="#6ec6f5"/>
<path d="M665.2 455.6L683.5 455.6L682.3 471.5L665.2 471.5Z" fill="#6ec6f5"/>
<path d="M665.2 475.0L680.0 475.0L680.0 492.1L665.2 492.1Z" fill="#6ec6f5"/>
<path d="M650.4 436.1L660.6 436.1L660.6 451.0L650.4 451.0Z" fill="#6ec6f5"/>
<path d="M646.9 486.4L654.9 486.4L654.9 493.2L646.9 493.2Z" fill="#9c1a30"/>
<path d="M654.9 486.4L660.6 486.4L660.6 493.2L654.9 493.2Z" fill="#a0209a"/>
<path d="M644.7 391.6L686.9 379.1L694.9 398.5L670.9 401.9L657.2 406.5L650.4 400.8Z" fill="#f29ac0"/>
<path d="M627.5 404.2L644.7 392.8L652.6 404.2L661.8 409.9L661.8 423.6L652.6 435.0L645.8 432.7L638.9 416.7L632.1 412.2Z" fill="#17a84b"/>
<path d="M665.2 409.9L675.5 404.2L696.0 404.2L694.9 416.7L689.2 428.2L665.2 428.2Z" fill="#17a84b"/>
<path d="M666.3 430.4L682.3 430.4L682.3 451.0L666.3 451.0Z" fill="url(#pgrid)"/>
<path d="M666.3 498.9L682.3 498.9L682.3 517.2L666.3 517.2Z" fill="url(#pgrid)"/>
<path d="M686.9 428.2L692.6 425.9L691.5 437.3L686.9 438.4Z" fill="#f29ac0"/>
<path d="M581.9 512.6L611.6 524.0L609.3 529.8L588.7 519.5Z" fill="#8ab4e8"/>
<path d="M629.8 522.9L660.6 522.9L660.6 528.6L629.8 528.6Z" fill="#f5d21e"/>
<path d="M696.0 401.9L675.5 403.0L665.2 409.9L662.9 421.3L662.9 521.8" stroke="#fff" stroke-width="3" fill="none"/>
<path d="M536.2 501.2L579.6 501.2L607.0 517.2L662.9 522.2" stroke="#fff" stroke-width="2.5" fill="none"/>
<g filter="url(#mpin)"><path d="M348.5 179.0Q366.7 161.1 379.9 143.1A48 48 0 1 0 313.5 143.1Q328.5 161.1 348.5 179.0Z" fill="#f07f30"/></g>
<circle cx="346.700" cy="108.500" r="35" fill="#fff"/>
<g filter="url(#mpin)"><path d="M311.0 232.6Q330.0 253.8 344.1 275.0A47.5 47.5 0 1 1 274.5 275.0Q290.3 253.8 311.0 232.6Z" fill="#2e9bd9"/></g>
<circle cx="309.300" cy="307.400" r="35" fill="#fff"/>
<text x="347" y="123.500" font-size="43" font-weight="800" text-anchor="middle" fill="#0a0a0a" font-family="NanumGothic, Liberation Sans, sans-serif">1</text>
<text x="310" y="323.500" font-size="43" font-weight="800" text-anchor="middle" fill="#0a0a0a" font-family="NanumGothic, Liberation Sans, sans-serif">2</text>

</svg>

<div id="mlabel" class="abs">로열파크씨티</div>
<div id="ybox" class="abs"></div>
<div id="y1" class="abs">시범단지만이 가질수있는</div>
<div id="y2" class="abs">보장된 프리미엄 <span class="k" style="position:relative;top:-10px;left:-9px">+ @</span></div>

<!-- CHART -->
<div id="chart" class="abs"></div>
<div id="chead" class="abs"></div>
<div id="ctitle" class="abs">로열파크씨티</div>


<svg class="abs" style="left:0;top:0" width="3350" height="2025" viewBox="0 0 3350 2025" id="csvg">
<defs>
<linearGradient id="gdiff" x1="0" x2="0" y1="0" y2="1"><stop offset="0" stop-color="#e2732c"/><stop offset="0.75" stop-color="#dd6372"/><stop offset="1" stop-color="#dc6178"/></linearGradient>
<linearGradient id="garrow" x1="0" x2="0" y1="0" y2="1"><stop offset="0" stop-color="#dd6478"/><stop offset="1" stop-color="#e2722e"/></linearGradient>
<filter id="pinsh" x="-50%" y="-50%" width="200%" height="200%"><feGaussianBlur in="SourceAlpha" stdDeviation="3.500"/><feOffset dx="8" dy="5"/><feComponentTransfer><feFuncA type="linear" slope="0.36"/></feComponentTransfer><feMerge><feMergeNode/><feMergeNode in="SourceGraphic"/></feMerge></filter>
<filter id="sbsh" x="-10%" y="-30%" width="120%" height="160%"><feGaussianBlur in="SourceAlpha" stdDeviation="1.800"/><feOffset dx="4" dy="3.500"/><feComponentTransfer><feFuncA type="linear" slope="0.7"/></feComponentTransfer><feMerge><feMergeNode/><feMergeNode in="SourceGraphic"/></feMerge></filter>
<filter id="txsh" x="-20%" y="-20%" width="140%" height="140%"><feGaussianBlur in="SourceAlpha" stdDeviation="2"/><feOffset dx="2" dy="2"/><feComponentTransfer><feFuncA type="linear" slope="0.35"/></feComponentTransfer><feMerge><feMergeNode/><feMergeNode in="SourceGraphic"/></feMerge></filter>
</defs>
<!-- bars -->
<rect x="1277" y="1073" width="155" height="556" fill="#c1c1c1"/>
<rect x="1727" y="950" width="155" height="679" fill="#c1c1c1"/>
<rect x="1277" y="950" width="155" height="120" fill="url(#gdiff)"/>
<!-- orange base bar + arrow -->
<rect x="1228" y="1068" width="257" height="10" fill="#e07230"/>
<path d="M1235 1070V944H1224L1243 926L1262 944H1251V1070Z" fill="url(#garrow)"/>
<!-- axis -->
<path d="M1130 1642V1629H2029V1642M1579.500 1629V1642" fill="none" stroke="#8c8c8c" stroke-width="2.500"/>
<!-- teal rounded box -->
<rect x="1169" y="794" width="377" height="1055.700" rx="44" ry="44" fill="none" stroke="#1b4a52" stroke-width="6.500"/>
<!-- pins -->
<g filter="url(#pinsh)"><path d="M1357.1 1621.5Q1377.1 1599.3 1392.2 1577.1A48.2 48.2 0 1 0 1321.0 1577.1Q1336.6 1599.3 1357.1 1621.5Z" fill="#f07f30"/></g>
<circle cx="1356.600" cy="1546" r="35" fill="#fff"/>
<g filter="url(#pinsh)"><path d="M1810.0 1610.5Q1830.0 1588.7 1844.9 1566.9A48.4 48.4 0 1 0 1773.9 1566.9Q1789.4 1588.7 1810.0 1610.5Z" fill="#2e9bd9"/></g>
<circle cx="1809" cy="1535" r="35" fill="#fff"/>
<g font-family="Noto Sans CJK KR, NanumGothic, sans-serif" font-weight="700">
<g filter="url(#sbsh)"><text x="1259" y="796" font-size="70" textLength="236" lengthAdjust="spacingAndGlyphs" fill="#fff" stroke="#1b4a52" stroke-width="14" stroke-linejoin="round" paint-order="stroke fill">시범단지</text></g>
<text x="1237" y="907" font-size="50" textLength="90" lengthAdjust="spacingAndGlyphs" fill="#1a73c4">차액</text>
<text x="1325" y="909" font-size="80" font-weight="400" textLength="95" lengthAdjust="spacingAndGlyphs" fill="#1a73c4" stroke="#1a73c4" stroke-width="5.500" font-family="Liberation Sans, sans-serif">1.5</text>
<text x="1431" y="910" font-size="77" fill="#1a73c4">억</text>
</g>
<text x="1357" y="1560.500" font-size="45" font-weight="800" text-anchor="middle" fill="#0a0a0a" font-family="NanumGothic, Liberation Sans, sans-serif">1</text>
<text x="1810" y="1550.500" font-size="45" font-weight="800" text-anchor="middle" fill="#0a0a0a" font-family="NanumGothic, Liberation Sans, sans-serif">2</text>
</svg>
<div class="abs bl" id="bl1">분양가<br><span class="dg">7<span style="letter-spacing:-8px;margin-left:-5px">.</span>1</span>억</div>
<div class="abs bl" id="bl2">분양가<br><span class="dg">8.6</span>억</div>
<div class="abs xl" id="xl1"><span class="w">초기 분양단지</span><br>로열파크씨티<span style="font-family:NanumGothic,'Noto Serif CJK KR',serif;line-height:1px">Ⅱ</span><br>('24.09입주)</div>
<div class="abs xl" id="xl2"><span class="w">후속 분양단지</span><br>예정지 1<br>('27년 분양 예정)</div>

<!-- TABLE -->
<table id="tbl" class="abs">
<colgroup><col style="width:162.500px"><col style="width:189.500px"><col style="width:413px"><col style="width:348px"></colgroup>
<tr style="height:149px"><td class="g" colspan="2">구분</td><td class="g" style="letter-spacing:-1.200px">로열파크씨티 <span class="k">Ⅱ</span></td><td class="g" style="word-spacing:-7px;padding-right:9px">예정지 <span class="n" style="letter-spacing:0px;margin-right:0px">1</span></td></tr>
<tr style="height:149px"><td class="g" colspan="2">토지대</td><td><span class="n" style="letter-spacing:0px;margin-right:0px">6,130</span></td><td><span class="n" style="letter-spacing:2.5px;margin-right:-2.5px">9,000</span></td></tr>
<tr style="height:176px"><td class="g" colspan="2">공사비</td><td class="m2"><span class="n" style="letter-spacing:2.3px;margin-right:-2.3px">6,600</span><br>(<span class="n" style="font-size:50px;top:0">21</span>년도 기준)</td><td class="m3"><span class="n" style="letter-spacing:0.2px;margin-right:-0.2px">8,277</span><br><span class="blue">연평균 상승<br><span class="n" style="font-size:53px;top:0">104%</span> 대입</span></td></tr>
<tr style="height:149px"><td class="g" colspan="2">합계</td><td class="g"><span class="n" style="letter-spacing:-0.6px;margin-right:0.6px">12,730</span></td><td class="g"><span class="n" style="letter-spacing:-1.4px;margin-right:1.4px">17,277</span></td></tr>
<tr style="height:150px"><td class="g" rowspan="3">상승</td><td class="g">평당가</td><td><span class="n" style="letter-spacing:0px;margin-right:0px">-</span></td><td><span class="n" style="letter-spacing:1.1px;margin-right:-1.1px">4,547</span></td></tr>
<tr style="height:149px"><td class="g">분양가</td><td><span class="n" style="letter-spacing:0.5px;margin-right:-0.5px">710,000</span></td><td><span class="n" style="letter-spacing:1.9px;margin-right:-1.9px">864,598</span></td></tr>
<tr style="height:149px"><td class="d">차액</td><td class="d"><span class="n" style="letter-spacing:0px;margin-right:0px">-</span></td><td class="d"><span class="n" style="letter-spacing:0.7px;margin-right:-0.7px">154,598</span></td></tr>
<tr style="height:201px"><td class="g" colspan="2">비고</td><td>시범단지</td><td><span class="n" style="letter-spacing:2.5px;margin-right:-2.5px">2027</span> 예정</td></tr>
</table>

<div id="pg" class="abs">34</div>
</body>
</html>
